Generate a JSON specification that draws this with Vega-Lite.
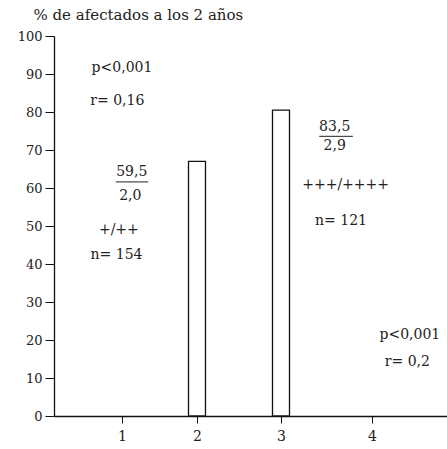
{
  "$schema": "https://vega.github.io/schema/vega-lite/v6.json",
  "width": 393,
  "height": 380,
  "autosize": "none",
  "padding": {"left": 54, "top": 36, "right": 0, "bottom": 33},
  "background": "white",
  "config": {
    "view": {"stroke": null},
    "font": "DejaVu Serif",
    "text": {"font": "DejaVu Serif"},
    "axis": {"grid": false, "domainColor": "#111", "tickColor": "#111", "labelColor": "#222", "labelFont": "DejaVu Serif", "labelFontSize": 13, "titleFont": "DejaVu Serif", "labelOverlap": false}
  },
  "datasets": {
    "bars": [
      {"x": 2, "y": 67},
      {"x": 3, "y": 80.5}
    ],
    "notes": [
      {"x": 1.0, "y": 91.6, "t": "p<0,001"},
      {"x": 0.94, "y": 82.9, "t": "r= 0,16"},
      {"x": 1.13, "y": 64.2, "t": "59,5"},
      {"x": 1.11, "y": 57.9, "t": "2,0"},
      {"x": 0.96, "y": 48.9, "t": "+/++"},
      {"x": 0.93, "y": 42.4, "t": "n= 154"},
      {"x": 3.59, "y": 76, "t": "83,5"},
      {"x": 3.59, "y": 71, "t": "2,9"},
      {"x": 3.71, "y": 60.8, "t": "+++/++++"},
      {"x": 3.66, "y": 51.3, "t": "n= 121"},
      {"x": 4.45, "y": 21.3, "t": "p<0,001"},
      {"x": 4.42, "y": 14.2, "t": "r= 0,2"}
    ],
    "lines": [
      {"x": 0.92, "x2": 1.35, "y": 61.6},
      {"x": 3.42, "x2": 3.79, "y": 73.6}
    ]
  },
  "encoding": {
    "x": {
      "field": "x", "type": "quantitative",
      "scale": {"domain": [0.19, 1, 2, 3, 4, 4.83], "range": [0, 68, 143, 227, 318, 393]},
      "axis": {"values": [1, 2, 3, 4], "format": "d", "title": null, "tickSize": 7, "labelPadding": 6, "domainWidth": 1.3, "labelFont": "DejaVu Serif", "labelFontSize": 14}
    },
    "y": {
      "field": "y", "type": "quantitative",
      "scale": {"domain": [0, 100]},
      "axis": {
        "values": [0, 10, 20, 30, 40, 50, 60, 70, 80, 90, 100],
        "format": "d",
        "labelOverlap": false,
        "tickSize": 9, "labelPadding": 3, "domainWidth": 1.3, "labelFont": "DejaVu Serif", "labelFontSize": 13,
        "title": "% de afectados a los 2 años",
        "titleFont": "DejaVu Serif",
        "titleAngle": 0, "titleAlign": "left", "titleBaseline": "alphabetic",
        "titleX": -21, "titleY": -17, "titleFontSize": 15, "titleFontWeight": "normal", "titleColor": "#222"
      }
    }
  },
  "layer": [
    {
      "data": {"name": "bars"},
      "mark": {"type": "bar", "size": 17, "fill": "white", "stroke": "#111", "strokeWidth": 1.3}
    },
    {
      "data": {"name": "notes"},
      "mark": {"type": "text", "font": "DejaVu Serif", "fontSize": 14, "color": "#222", "align": "center", "baseline": "middle"},
      "encoding": {
        "text": {"field": "t"}
      }
    },
    {
      "data": {"name": "lines"},
      "mark": {"type": "rule", "color": "#222", "strokeWidth": 1},
      "encoding": {
        "x2": {"field": "x2"}
      }
    }
  ]
}
